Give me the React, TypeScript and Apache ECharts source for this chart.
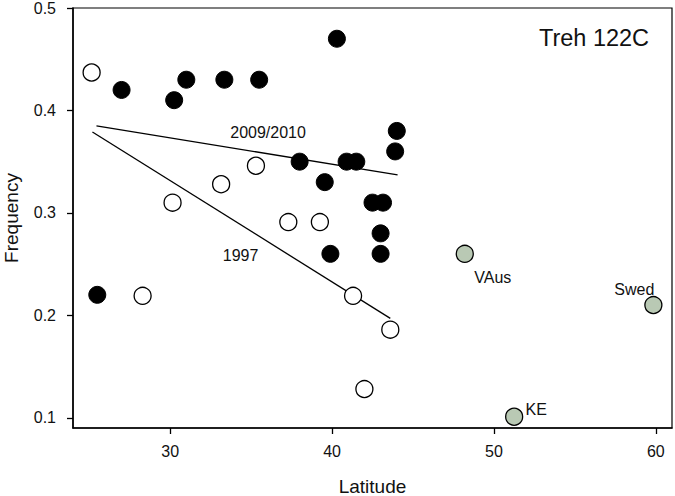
import React, { useEffect, useRef } from "react";
import * as echarts from "echarts";

// Filled circles: 2009/2010 collections
const recentLat = [25.5, 27.0, 30.25, 31.0, 33.35, 35.5, 40.3, 38.0, 39.55, 39.9, 40.9, 41.5, 42.5, 43.15, 43.0, 43.0, 43.9, 44.0];
const recentFreq = [0.22, 0.42, 0.41, 0.43, 0.43, 0.43, 0.47, 0.35, 0.33, 0.26, 0.35, 0.35, 0.31, 0.31, 0.28, 0.26, 0.36, 0.38];

// Open circles: 1997 collections
const oldLat = [25.15, 28.3, 30.15, 33.15, 35.3, 37.3, 39.25, 41.3, 43.6, 42.0];
const oldFreq = [0.437, 0.219, 0.31, 0.328, 0.346, 0.291, 0.291, 0.219, 0.186, 0.128];

// Grey circles: other populations
const refNames = ["VAus", "Swed", "KE"];
const refLat = [48.2, 59.85, 51.25];
const refFreq = [0.26, 0.21, 0.101];

// Regression lines (end points)
const fitRecentLat = [25.45, 44.05];
const fitRecentFreq = [0.385, 0.337];
const fitOldLat = [25.2, 43.6];
const fitOldFreq = [0.379, 0.197];

// Line labels
const lineLabels = ["2009/2010", "1997"];
const lineLabelLat = [36.05, 34.35];
const lineLabelFreq = [0.378, 0.258];

// Ticks
const xTicks = [30, 40, 50, 60];
const yTicks = [0.1, 0.2, 0.3, 0.4, 0.5];

const panelTitle = "Treh 122C";

const FONT = "Liberation Sans, Arial, sans-serif";

export default function App() {
  const ref = useRef<HTMLDivElement>(null);
  useEffect(() => {
    document.body.style.margin = "0";
    if (!ref.current) return;
    const chart = echarts.init(ref.current, null, { renderer: "svg" });
    const pairs = (xs: number[], ys: number[]) => xs.map((x, i) => [x, ys[i]]);
    const refOffsets: Record<string, number[]> = {
      VAus: [28, 24],
      Swed: [-19, -16],
      KE: [22, -7],
    };
    chart.setOption({
      animation: false,
      backgroundColor: "#fff",
      textStyle: { fontFamily: FONT },
      grid: {
        left: 73,
        right: 3,
        top: 8,
        bottom: 68,
        show: true,
        borderColor: "#000",
        borderWidth: 1.2,
        containLabel: false,
        outerBoundsMode: "none",
      },
      xAxis: {
        type: "value",
        min: 24,
        max: 61,
        name: "Latitude",
        nameLocation: "middle",
        nameGap: 49,
        nameTextStyle: { fontSize: 19, color: "#111", fontFamily: FONT },
        axisLine: { show: true, lineStyle: { color: "#000", width: 1.5 } },
        axisTick: { show: true, length: 6, inside: false, lineStyle: { color: "#000", width: 1.3 }, customValues: xTicks },
        axisLabel: { show: true, fontSize: 16, color: "#111", margin: 15, fontFamily: FONT, customValues: xTicks, formatter: (v: number) => String(v) },
        splitLine: { show: false },
      },
      yAxis: {
        type: "value",
        min: 0.09,
        max: 0.5,
        name: "Frequency",
        nameLocation: "middle",
        nameGap: 52,
        nameTextStyle: { fontSize: 19, color: "#111", fontFamily: FONT },
        axisLine: { show: true, lineStyle: { color: "#000", width: 1.5 } },
        axisTick: { show: true, length: 6, inside: false, lineStyle: { color: "#000", width: 1.3 }, customValues: yTicks },
        axisLabel: { show: true, fontSize: 16, color: "#111", margin: 17, fontFamily: FONT, customValues: yTicks, formatter: (v: number) => String(v) },
        splitLine: { show: false },
      },
      graphic: [
        {
          type: "text",
          x: 594,
          y: 38,
          style: {
            text: panelTitle,
            fontSize: 23.5,
            fontFamily: FONT,
            fill: "#111",
            textAlign: "center",
            textVerticalAlign: "middle",
          },
        },
      ],
      series: [
        {
          type: "line",
          data: pairs(fitRecentLat, fitRecentFreq),
          symbol: "none",
          lineStyle: { color: "#000", width: 1.3 },
          z: 1,
        },
        {
          type: "line",
          data: pairs(fitOldLat, fitOldFreq),
          symbol: "none",
          lineStyle: { color: "#000", width: 1.3 },
          z: 1,
        },
        {
          type: "scatter",
          data: pairs(oldLat, oldFreq),
          symbol: "circle",
          symbolSize: 17,
          itemStyle: { color: "#fff", borderColor: "#000", borderWidth: 1.3, opacity: 1 },
          z: 3,
        },
        {
          type: "scatter",
          data: pairs(recentLat, recentFreq),
          symbol: "circle",
          symbolSize: 17,
          itemStyle: { color: "#000", borderColor: "#000", borderWidth: 1, opacity: 1 },
          z: 3,
        },
        {
          type: "scatter",
          data: refNames.map((n, i) => ({
            name: n,
            value: [refLat[i], refFreq[i]],
            label: { offset: refOffsets[n] },
          })),
          symbol: "circle",
          symbolSize: 17,
          itemStyle: { color: "#b9c9b4", borderColor: "#000", borderWidth: 1.3, opacity: 1 },
          label: {
            show: true,
            position: "inside",
            formatter: (p: any) => p.name,
            fontSize: 16,
            color: "#111",
            fontFamily: FONT,
            textBorderWidth: 0,
          },
          z: 3,
        },
        {
          type: "scatter",
          data: lineLabels.map((n, i) => ({ name: n, value: [lineLabelLat[i], lineLabelFreq[i]] })),
          symbol: "circle",
          symbolSize: 1,
          itemStyle: { color: "#fff", borderWidth: 0, opacity: 1 },
          label: {
            show: true,
            position: "inside",
            formatter: (p: any) => p.name,
            fontSize: 16,
            color: "#111",
            opacity: 1,
            textBorderWidth: 0,
            fontFamily: FONT,
          },
          z: 4,
        },
      ],
    });
    return () => chart.dispose();
  }, []);
  return <div ref={ref} style={{ width: 675, height: 496 }} />;
}
